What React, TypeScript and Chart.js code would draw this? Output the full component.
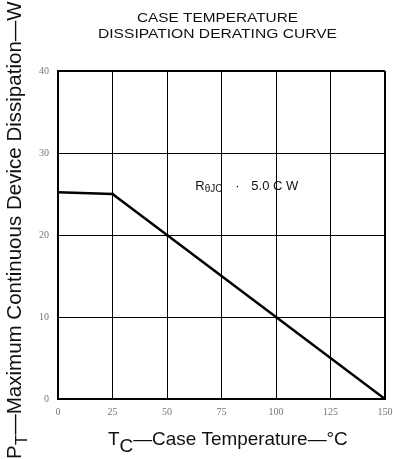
import React, { useEffect, useRef } from "react";
import { Chart, registerables } from "chart.js";

Chart.register(...registerables);

const caseTemp = [0, 25, 50, 100, 150];
const dissipation = [25.2, 25, 20, 10, 0];
const xTicks = [0, 25, 50, 75, 100, 125, 150];
const yTicks = [0, 10, 20, 30, 40];
const titleLines = ["CASE TEMPERATURE", "DISSIPATION DERATING CURVE"];

const SANS = "'Liberation Sans', Arial, sans-serif";

const textPlugin = {
  id: "textPlugin",
  afterDraw(chart: any) {
    const ctx = chart.ctx as CanvasRenderingContext2D;
    ctx.save();
    ctx.fillStyle = "#111";
    ctx.font = `13px ${SANS}`;
    ctx.textAlign = "center";
    ctx.textBaseline = "middle";
    const drawWide = (t: string, cx: number, cy: number, targetW: number) => {
      const w = ctx.measureText(t).width;
      ctx.save();
      ctx.translate(cx, cy);
      ctx.scale(targetW / w, 1);
      ctx.fillText(t, 0, 0);
      ctx.restore();
    };
    drawWide(titleLines[0], 217.5, 18, 161);
    drawWide(titleLines[1], 217.5, 34, 239);

    const drawSub = (
      parts: { t: string; size: number; dy: number }[],
      cx: number,
      cy: number,
      targetW: number
    ) => {
      let w = 0;
      parts.forEach((p) => {
        ctx.font = `${p.size}px ${SANS}`;
        w += ctx.measureText(p.t).width;
      });
      const scale = targetW / w;
      let x = cx - targetW / 2;
      ctx.textAlign = "left";
      ctx.textBaseline = "alphabetic";
      parts.forEach((p) => {
        ctx.font = `${p.size * scale}px ${SANS}`;
        ctx.fillText(p.t, x, cy + p.dy * scale);
        x += ctx.measureText(p.t).width;
      });
    };

    drawSub(
      [
        { t: "T", size: 18, dy: 0 },
        { t: "C", size: 18, dy: 7 },
        { t: "\u2014Case Temperature\u2014\u00B0C", size: 18, dy: 0 },
      ],
      228,
      445,
      240
    );

    ctx.save();
    ctx.translate(21, 230);
    ctx.rotate(-Math.PI / 2);
    drawSub(
      [
        { t: "P", size: 18, dy: 0 },
        { t: "T", size: 15, dy: 5 },
        { t: "\u2014Maximum Continuous Device Dissipation\u2014W", size: 18, dy: 0 },
      ],
      0,
      0,
      458
    );
    ctx.restore();

    // annotation
    const xs = chart.scales.x;
    const ys = chart.scales.y;
    const ax = xs.getPixelForValue(63);
    const ay = ys.getPixelForValue(25.5);
    ctx.textAlign = "left";
    ctx.textBaseline = "alphabetic";
    ctx.font = `13px ${SANS}`;
    ctx.fillText("R", ax, ay);
    const px = ax + ctx.measureText("R").width;
    ctx.font = `10px ${SANS}`;
    ctx.fillText("\u03B8JC", px, ay + 2);
    ctx.font = `13px ${SANS}`;
    ctx.fillText("\u00B7", ax + 40, ay);
    ctx.fillText("5.0 C W", ax + 56, ay);
    ctx.restore();
  },
};

export default function App() {
  const ref = useRef<HTMLCanvasElement>(null);
  useEffect(() => {
    if (!ref.current) return;
    const chart = new Chart(ref.current, {
      type: "line",
      data: {
        datasets: [
          {
            data: caseTemp.map((x, i) => ({ x, y: dissipation[i] })),
            borderColor: "#000",
            borderWidth: 2.5,
            pointRadius: 1.5,
            pointBackgroundColor: "#000",
            pointBorderWidth: 0,
            tension: 0,
          },
        ],
      },
      options: {
        responsive: false,
        animation: false,
        layout: { padding: { left: 0, right: 8, top: 71, bottom: 0 } },
        plugins: { legend: { display: false }, tooltip: { enabled: false } },
        scales: {
          x: {
            type: "linear",
            min: 0,
            max: 150,
            afterBuildTicks: (s: any) => {
              s.ticks = xTicks.map((v) => ({ value: v }));
            },
            afterFit: (s: any) => {
              s.height = 60;
              s.paddingLeft = 0;
              s.paddingRight = 0;
            },
            ticks: {
              color: "#777",
              font: { family: "'Liberation Serif', serif", size: 10 },
              padding: 7,
              maxRotation: 0,
            },
            grid: {
              color: "#000",
              lineWidth: (c: any) => (c.tick && c.tick.value === 150 ? 2 : 1),
              drawTicks: false,
            },
            border: { color: "#000", width: 2 },
          },
          y: {
            type: "linear",
            min: 0,
            max: 40,
            afterBuildTicks: (s: any) => {
              s.ticks = yTicks.map((v) => ({ value: v }));
            },
            afterFit: (s: any) => {
              s.width = 58;
              s.paddingTop = 0;
              s.paddingBottom = 0;
            },
            ticks: {
              color: "#777",
              font: { family: "'Liberation Serif', serif", size: 10 },
              padding: 9,
            },
            grid: {
              color: "#000",
              lineWidth: (c: any) => (c.tick && c.tick.value === 40 ? 2 : 1),
              drawTicks: false,
            },
            border: { color: "#000", width: 2 },
          },
        },
      },
      plugins: [textPlugin],
    } as any);
    return () => chart.destroy();
  }, []);
  return (
    <div style={{ position: "fixed", left: 0, top: 0, width: 393, height: 459, background: "#fff" }}>
      <canvas ref={ref} width={393} height={459} />
    </div>
  );
}
